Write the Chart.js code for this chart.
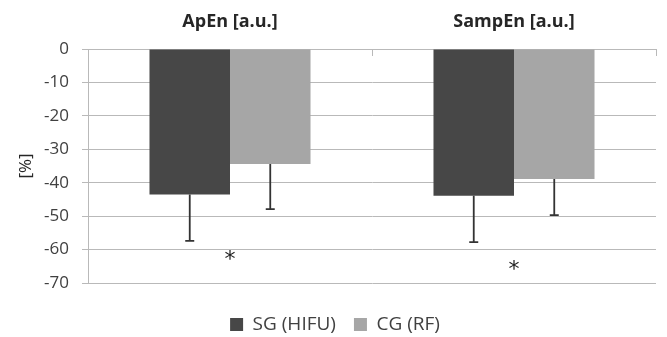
<!DOCTYPE html>
<html>
<head>
<meta charset="utf-8">
<script src="https://cdn.jsdelivr.net/npm/chart.js@4"></script>
<style>
  html, body { margin: 0; padding: 0; background: #fff; }
  #wrap { width: 667px; height: 337px; }
</style>
</head>
<body>
<div id="wrap"><canvas id="chart"></canvas></div>
<script>
const categories = ['ApEn [a.u.]', 'SampEn [a.u.]'];
const sgValues = [-43.5, -43.9];
const cgValues = [-34.4, -38.9];
const sgSd = [13.9, 13.9];
const cgSd = [13.5, 10.8];
const starValues = [-61.8, -64.6];
const yTicks = [0, -10, -20, -30, -40, -50, -60, -70];

const textColor = '#404040';
const gridColor = '#b9b9b9';

// error bars hang below each bar (downward only)
const errorBars = {
  id: 'errorBars',
  afterDatasetsDraw(chart) {
    const ctx = chart.ctx;
    const y = chart.scales.y;
    const sds = [sgSd, cgSd];
    ctx.save();
    ctx.strokeStyle = '#333';
    ctx.lineWidth = 1.8;
    chart.data.datasets.forEach(function(ds, di) {
      chart.getDatasetMeta(di).data.forEach(function(bar, i) {
        const yEnd = y.getPixelForValue(ds.data[i] - sds[di][i]);
        ctx.beginPath();
        ctx.moveTo(bar.x, bar.y);
        ctx.lineTo(bar.x, yEnd);
        ctx.moveTo(bar.x - 4.5, yEnd);
        ctx.lineTo(bar.x + 4.5, yEnd);
        ctx.stroke();
      });
    });
    ctx.restore();
  }
};

// significance stars + category tick marks
const extras = {
  id: 'extras',
  afterDraw(chart) {
    const ctx = chart.ctx;
    const x = chart.scales.x;
    const y = chart.scales.y;
    ctx.save();
    ctx.fillStyle = '#222';
    ctx.font = '22px "DejaVu Sans"';
    ctx.textAlign = 'center';
    ctx.textBaseline = 'middle';
    starValues.forEach(function(v, i) {
      ctx.fillText('*', x.getPixelForValue(i), y.getPixelForValue(v) + 5);
    });
    ctx.strokeStyle = gridColor;
    ctx.lineWidth = 1;
    const top = y.getPixelForValue(0);
    for (let i = 0; i <= categories.length; i++) {
      const px = Math.round(x.getPixelForValue(i - 0.5)) + 0.5;
      ctx.beginPath();
      ctx.moveTo(px, top);
      ctx.lineTo(px, top + 7);
      ctx.stroke();
    }
    ctx.restore();
  }
};

new Chart(document.getElementById('chart'), {
  type: 'bar',
  data: {
    labels: categories,
    datasets: [
      { label: 'SG (HIFU)', data: sgValues, backgroundColor: '#474747', categoryPercentage: 0.567, barPercentage: 1 },
      { label: 'CG (RF)', data: cgValues, backgroundColor: '#a6a6a6', categoryPercentage: 0.567, barPercentage: 1 }
    ]
  },
  options: {
    responsive: true,
    maintainAspectRatio: false,
    animation: false,
    layout: { padding: { left: 14, right: 11, top: 5, bottom: -7 } },
    scales: {
      x: {
        position: 'top',
        grid: { display: false },
        border: { display: true, color: gridColor },
        ticks: { color: '#262626', font: { family: 'Open Sans', size: 18, weight: 'bold' }, padding: 8 },
        afterFit(s) { s.height = 44; }
      },
      y: {
        min: -70,
        max: 0,
        afterBuildTicks(s) { s.ticks = yTicks.map(function(v) { return { value: v }; }); },
        grid: { color: gridColor, tickLength: 6 },
        border: { color: gridColor },
        ticks: { color: textColor, font: { family: 'Open Sans', size: 17 }, padding: 13 },
        title: { display: true, text: '[%]', color: '#262626', font: { family: 'Open Sans', size: 17 }, padding: 2 },
        afterFit(s) { s.width = 74; }
      }
    },
    plugins: {
      legend: {
        position: 'bottom',
        title: { display: true, text: '', font: { size: 10 }, padding: { top: 2, bottom: 0 } },
        labels: {
          color: textColor,
          font: { family: 'Open Sans', size: 19 },
          boxWidth: 13,
          boxHeight: 13,
          padding: 18
        }
      },
      tooltip: { enabled: false }
    }
  },
  plugins: [errorBars, extras]
});
</script>
</body>
</html>
